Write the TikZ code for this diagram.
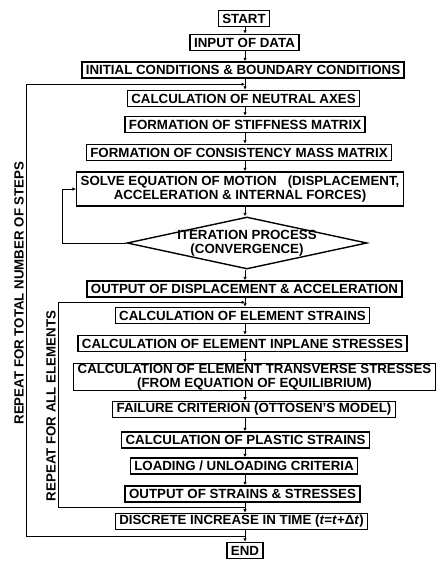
\documentclass[tikz,border=0pt]{standalone}
\usepackage{fontspec}
\setmainfont{Liberation Sans}
\usetikzlibrary{
  arrows.meta,
  calc,
  positioning,
  shapes.geometric,
}
\tikzset{
  >={Latex[length=3.5pt,width=3.5pt]},
  box/.style={draw, line width=1.4pt, inner xsep=4pt, inner ysep=2pt,
    minimum height=16pt, align=center,
    font=\bfseries\fontsize{13.3}{13.5}\selectfont},
  decision/.style={draw, diamond, line width=1.4pt, inner sep=0pt,
    minimum width=240pt, minimum height=52pt},
  flow/.style={line width=0.9pt, ->},
  loopback/.style={line width=1pt, ->},
  sidelabel/.style={rotate=90, inner sep=0pt,
    font=\bfseries\fontsize{13.3}{13.5}\selectfont},
}

\begin{document}
\begin{tikzpicture}[x=1pt, y=-1pt]

        \useasboundingbox (0,0) rectangle (442,562);

        \coordinate (sp) at (245,0);
        \coordinate (outerx) at (26,0);
        \coordinate (innerx) at (58,0);
        \coordinate (iterx) at (62,0);

        \node [box] (start) at (244,18.5) {START};
        \node [box] (input) at (244.5,42.5) {INPUT OF DATA};
        \node [box] (init) at (243,70) {INITIAL CONDITIONS \& BOUNDARY CONDITIONS};
        \node [box] (axes) at (243.5,98.5) {CALCULATION OF NEUTRAL AXES};
        \node [box] (stiff) at (245,124.5) {FORMATION OF STIFFNESS MATRIX};
        \node [box] (mass) at (239,152.5) {FORMATION OF CONSISTENCY MASS MATRIX};
        \node [box, minimum height=34pt] (solve) at (240,189)
              {SOLVE EQUATION OF MOTION\ \ \ (DISPLACEMENT,\\ACCELERATION \& INTERNAL FORCES)};
        \node [decision] (iter) at (247,243) {};
        \node [box, draw=none] (itertext) at (iter) {ITERATION PROCESS\\(CONVERGENCE)};
        \node [box] (outdisp) at (244.5,289) {OUTPUT OF DISPLACEMENT \& ACCELERATION};
        \node [box] (elstrain) at (242.5,315.5) {CALCULATION OF ELEMENT STRAINS};
        \node [box] (inplane) at (242.5,343.5) {CALCULATION OF ELEMENT INPLANE STRESSES};
        \node [box, inner ysep=1pt] (transv) at (254.5,377)
              {CALCULATION OF ELEMENT TRANSVERSE STRESSES\\(FROM EQUATION OF EQUILIBRIUM)};
        \node [box] (failure) at (254,409.5) {FAILURE CRITERION (OTTOSEN'S MODEL)};
        \node [box] (plastic) at (245.5,440) {CALCULATION OF PLASTIC STRAINS};
        \node [box] (loading) at (244,466) {LOADING / UNLOADING CRITERIA};
        \node [box] (outstr) at (242.5,494) {OUTPUT OF STRAINS \& STRESSES};
        \node [box] (time) at (241.5,521.5)
              {DISCRETE INCREASE IN TIME (\textit{t}=\textit{t}+Δ\textit{t})};
        \node [box] (end) at (245,550.5) {END};

        \foreach \a/\b in {start/input, input/init, init/axes, axes/stiff,
                           stiff/mass, mass/solve, solve/iter, iter/outdisp,
                           outdisp/elstrain, elstrain/inplane, inplane/transv,
                           transv/failure, failure/plastic, plastic/loading,
                           loading/outstr, outstr/time, time/end} {
          \draw [flow] (\a.south -| sp) -- (\b.north -| sp);
        }

        \coordinate (topjoin) at ($(init.south -| sp)!.5!(axes.north -| sp)$);
        \coordinate (botjoin) at ($(time.south -| sp)!.5!(end.north -| sp)$);
        \coordinate (eltop) at ($(outdisp.south -| sp)!.5!(elstrain.north -| sp)$);
        \coordinate (elbot) at ($(outstr.south -| sp)!.5!(time.north -| sp)$);

        \draw [loopback] (botjoin) -- (botjoin -| outerx) -- (topjoin -| outerx) -- (topjoin);
        \draw [loopback] (elbot) -- (elbot -| innerx) -- (eltop -| innerx) -- (eltop);
        \draw [loopback] (iter.west) -- (iter.west -| iterx) |- (solve.west);

        \node [sidelabel] (stepslbl) at (19,293) {REPEAT FOR TOTAL NUMBER OF STEPS};
        \node [sidelabel] (elemlbl) at (51,406) {REPEAT FOR ALL ELEMENTS};

      \end{tikzpicture}
\end{document}
